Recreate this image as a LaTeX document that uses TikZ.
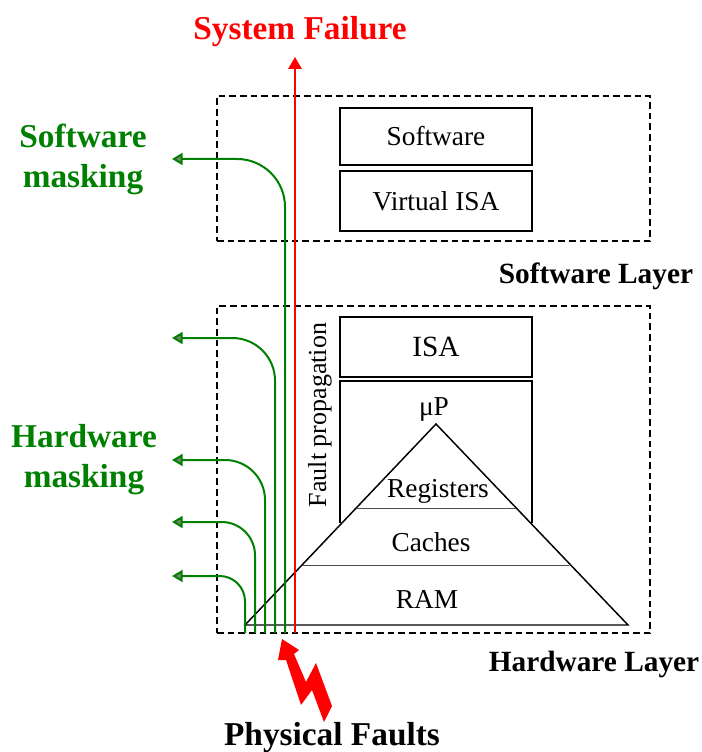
\documentclass[tikz,border=0pt]{standalone}
\usepackage{fontspec}
\setmainfont{Liberation Serif}
\usetikzlibrary{arrows.meta}
\definecolor{mgreen}{RGB}{0,128,0}
\begin{document}
\begin{tikzpicture}[x=0.75pt,y=-0.75pt,
  box/.style={draw, line width=1.1pt, inner sep=0pt, font=\fontsize{20.5}{24}\selectfont},
  layer/.style={draw, dash pattern=on 5pt off 3pt, line width=1.1pt, inner sep=0pt},
  plain/.style={font=\fontsize{20.5}{24}\selectfont, inner sep=0pt},
  biglbl/.style={font=\fontsize{25}{30}\selectfont\bfseries, inner sep=0pt, align=center},
  laylbl/.style={font=\fontsize{22}{26}\selectfont\bfseries, inner sep=0pt},
  mask/.style={draw=mgreen, line width=1.5pt, -{Triangle[length=8pt,width=9pt,fill=gray]}},
  thin/.style={draw=black!70, line width=0.7pt}
]
\useasboundingbox (0,0) rectangle (702,752);

% layers
\node[layer, minimum width=324.75pt, minimum height=108.75pt] (swlayer) at (433.5,168.5) {};
\node[layer, minimum width=324.75pt, minimum height=245.25pt] (hwlayer) at (433.5,469.5) {};
\node[laylbl] (swlbl) at (596,276) {Software Layer};
\node[laylbl] (hwlbl) at (594,664) {Hardware Layer};

% software boxes
\node[box, minimum width=144pt, minimum height=42.75pt] (sw) at (436,136.5) {Software};
\node[box, minimum width=144pt, minimum height=45pt] (visa) at (436,201) {Virtual ISA};
\node[box, minimum width=144pt, minimum height=45pt, font=\fontsize{22}{26}\selectfont] (isa) at (436,347) {ISA};

% microprocessor box (open bottom)
\coordinate (upBL) at (340,523);
\coordinate (upTL) at (340,381);
\coordinate (upTR) at (532,381);
\coordinate (upBR) at (532,523);
\draw[line width=1.1pt] (upBL) -- (upTL) -- (upTR) -- (upBR);
\node[plain] (up) at (434,409) {μP};

% pyramid
\coordinate (apex) at (436,424);
\coordinate (baseL) at (245,625);
\coordinate (baseR) at (628,625);
\draw[line width=1.1pt, line join=miter] (baseL) -- (apex) -- (baseR) -- cycle;
\coordinate (regL) at (357,508);
\coordinate (regR) at (516,508);
\coordinate (cacL) at (303,565);
\coordinate (cacR) at (569,565);
\draw[thin] (regL) -- (regR);
\draw[thin] (cacL) -- (cacR);
\node[plain] (reg) at (438,491) {Registers};
\node[plain] (cac) at (431,542) {Caches};
\node[plain] (ram) at (427,599) {RAM};

% fault propagation label
\node[plain, rotate=90, font=\fontsize{19.5}{23}\selectfont] (fp) at (320,415) {Fault propagation};

% masking paths
\coordinate (g1b) at (285,633); \coordinate (g1c) at (285,159); \coordinate (g1e) at (172,159);
\coordinate (g2b) at (275,633); \coordinate (g2c) at (275,338); \coordinate (g2e) at (172,338);
\coordinate (g3b) at (265,633); \coordinate (g3c) at (265,460); \coordinate (g3e) at (172,460);
\coordinate (g4b) at (255,633); \coordinate (g4c) at (255,522); \coordinate (g4e) at (172,522);
\coordinate (g5b) at (245,633); \coordinate (g5c) at (245,576); \coordinate (g5e) at (172,576);
\draw[mask, rounded corners=36pt] (g1b) -- (g1c) -- (g1e);
\draw[mask, rounded corners=32pt] (g2b) -- (g2c) -- (g2e);
\draw[mask, rounded corners=30pt] (g3b) -- (g3c) -- (g3e);
\draw[mask, rounded corners=25pt] (g4b) -- (g4c) -- (g4e);
\draw[mask, rounded corners=19pt] (g5b) -- (g5c) -- (g5e);

% system failure
\coordinate (redb) at (295,633);
\coordinate (redt) at (295,57);
\draw[red, line width=1.5pt, -{Triangle[length=9pt,width=10pt]}] (redb) -- (redt);
\node[biglbl, text=red] (sf) at (300,32) {System Failure};

% labels
\node[biglbl, text=mgreen] (swm) at (83,159) {Software\\masking};
\node[biglbl, text=mgreen] (hwm) at (84,460) {Hardware\\masking};
\node[biglbl] (pf) at (332,738) {Physical Faults};

% lightning
\fill[red] (282,639) -- (299,650) -- (294,654) -- (306,682) -- (316,663) -- (332,706)
  -- (324,722) -- (312,690) -- (301,705) -- (286,660) -- (278,660) -- cycle;
\end{tikzpicture}
\end{document}
